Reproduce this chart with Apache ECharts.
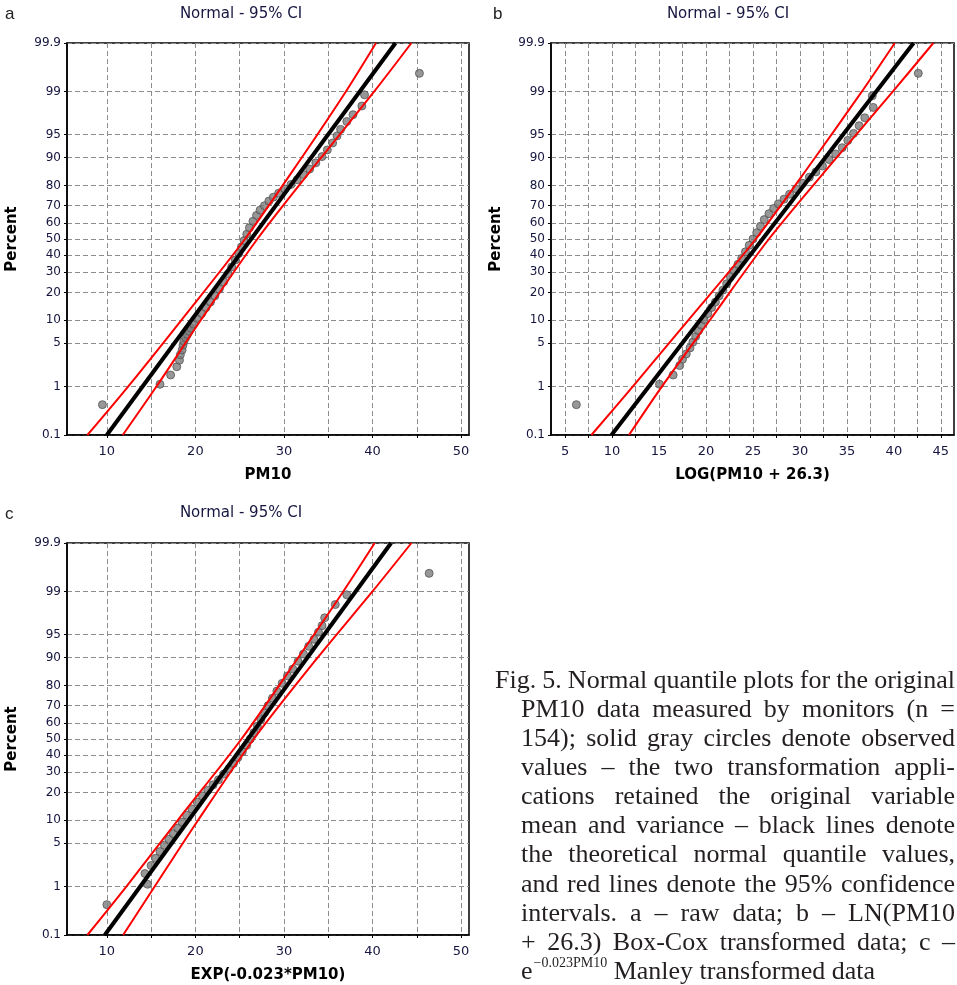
<!DOCTYPE html>
<html>
<head>
<meta charset="utf-8">
<title>Normal quantile plots - PM10</title>
<script src="https://cdn.jsdelivr.net/npm/echarts@6/dist/echarts.min.js"></script>
<style>
  html, body { margin: 0; padding: 0; background: #fff; }
  #chart { width: 957px; height: 985px; }
</style>
</head>
<body>
<div id="chart"></div>
<script>
// probability scale ticks (percent)
const percentTicks = [0.1, 1, 5, 10, 20, 30, 40, 50, 60, 70, 80, 90, 95, 99, 99.9];

// x ticks / labels
const xGridA = [10, 15, 20, 25, 30, 35, 40, 45, 50];
const xLabelsA = [10, 20, 30, 40, 50];
const xGridB = [5, 7.5, 10, 12.5, 15, 17.5, 20, 22.5, 25, 27.5, 30, 32.5, 35, 37.5, 40, 42.5, 45];
const xLabelsB = [5, 10, 15, 20, 25, 30, 35, 40, 45];

// a - raw data  [PM10, percent]
const rawPoints = [
  [9.5, 0.45], [16.0, 1.1], [17.2, 1.6], [17.9, 2.2], [18.2, 2.8], [18.3, 3.4], [18.5, 4.0], [18.6, 4.7],
  [18.7, 5.3], [18.9, 6.0], [19.1, 6.6], [19.3, 7.3], [19.5, 8.0], [19.8, 9.0], [20.2, 10.5], [20.7, 12],
  [21.2, 14], [21.7, 16], [22.2, 18.5], [22.7, 21.5], [23.2, 25], [23.7, 29], [24.1, 33], [24.5, 37],
  [24.9, 41], [25.2, 45], [25.5, 49], [25.8, 53], [26.1, 57], [26.5, 61], [26.9, 64.5], [27.3, 67.5],
  [27.8, 70], [28.3, 72.5], [28.8, 74.5], [29.4, 76.5], [30.1, 78.5], [30.8, 80.5], [31.5, 82.5], [32.2, 84.5],
  [32.9, 86.5], [33.6, 88.5], [34.3, 90.3], [34.9, 92], [35.5, 93.5], [36.0, 94.8], [36.4, 95.8], [37.1, 96.8],
  [37.8, 97.5], [38.8, 98.2], [39.1, 98.85], [45.3, 99.55]
];
const rawFit = [[10.0, 0.1], [42.6, 99.9]];
const rawLower = [[7.8, 0.1], [12.4, 1], [18.4, 10], [25.6, 50], [32.0, 90], [37.0, 99], [40.4, 99.9]];
const rawUpper = [[11.8, 0.1], [15.6, 1], [20.6, 10], [27.0, 50], [34.2, 90], [40.2, 99], [44.4, 99.9]];

// b - LOG(PM10 + 26.3)
const logPoints = [
  [6.2, 0.45], [15.05, 1.1], [16.5, 1.6], [17.2, 2.3], [17.5, 2.9], [17.9, 3.5], [18.3, 4.3], [18.6, 5.2],
  [18.9, 6.2], [19.2, 7.4], [19.5, 8.7], [19.8, 10.2], [20.2, 12], [20.6, 14], [21.0, 16], [21.4, 18.5],
  [21.8, 21], [22.2, 24], [22.6, 27.5], [23.0, 31], [23.4, 34.5], [23.8, 38], [24.2, 42], [24.6, 46],
  [25.0, 50], [25.4, 54], [25.8, 58], [26.2, 62], [26.7, 65.5], [27.2, 68.5], [27.7, 71], [28.3, 73.5],
  [28.9, 76], [29.6, 78.5], [30.3, 81], [31.0, 83.5], [31.7, 85.5], [32.4, 87.5], [33.1, 89.5], [33.8, 91],
  [34.5, 92.5], [35.1, 94], [35.7, 95.2], [36.3, 96.3], [36.9, 97.2], [37.8, 98.1], [37.7, 98.8], [42.6, 99.55]
];
const logFit = [[9.94, 0.1], [42.1, 99.9]];
const logLower = [[7.8, 0.1], [12.2, 1], [18.1, 10], [25.3, 50], [31.6, 90], [36.6, 99], [40.1, 99.9]];
const logUpper = [[11.8, 0.1], [15.3, 1], [20.4, 10], [26.7, 50], [33.9, 90], [39.9, 99], [44.2, 99.9]];

// c - EXP(-0.023*PM10)
const expPoints = [
  [10.0, 0.45], [14.6, 1.1], [14.3, 1.7], [15.0, 2.3], [15.5, 3], [16.0, 3.8], [16.5, 4.7], [17.0, 5.7],
  [17.5, 6.8], [18.0, 8], [18.5, 9.5], [19.0, 11.5], [19.6, 13.5], [20.2, 16], [20.8, 18.5], [21.4, 21],
  [22.0, 23.5], [22.6, 26], [23.2, 29], [23.8, 32], [24.3, 35], [24.8, 38.5], [25.3, 42], [25.8, 46],
  [26.2, 50], [26.6, 54], [27.0, 58], [27.4, 62], [27.8, 66], [28.2, 70], [28.7, 74], [29.2, 77.5],
  [29.8, 81], [30.4, 84], [31.0, 86.5], [31.6, 89], [32.2, 91], [32.8, 92.8], [33.4, 94.2], [33.9, 95.4],
  [34.3, 96.3], [34.6, 97.2], [35.8, 98.3], [37.1, 98.85], [46.4, 99.55]
];
const expFit = [[9.77, 0.1], [42.1, 99.9]];
const expLower = [[7.8, 0.1], [12.2, 1], [18.0, 10], [25.2, 50], [31.6, 90], [36.7, 99], [40.25, 99.9]];
const expUpper = [[11.84, 0.1], [15.4, 1], [20.3, 10], [26.6, 50], [33.8, 90], [40.0, 99], [44.4, 99.9]];

const captionLines = [
  'Fig. 5. Normal quantile plots for the original',
  'PM10 data measured by monitors (n =',
  '154); solid gray circles denote observed',
  'values \u2013 the two transformation appli-',
  'cations retained the original variable',
  'mean and variance \u2013 black lines denote',
  'the theoretical normal quantile values,',
  'and red lines denote the 95% confidence',
  'intervals. a \u2013 raw data; b \u2013 LN(PM10',
  '+ 26.3) Box-Cox transformed data; c \u2013'
];
const captionLast = ['e', '\u22120.023PM10', ' Manley transformed data'];

// inverse normal cdf (Acklam) - maps percent to the probit axis
function probit(p) {
  const a = [-3.969683028665376e+01, 2.209460984245205e+02, -2.759285104469687e+02, 1.383577518672690e+02, -3.066479806614716e+01, 2.506628277459239e+00];
  const b = [-5.447609879822406e+01, 1.615858368580409e+02, -1.556989798598866e+02, 6.680131188771972e+01, -1.328068155288572e+01];
  const c = [-7.784894002430293e-03, -3.223964580411365e-01, -2.400758277161838e+00, -2.549732539343734e+00, 4.374664141464968e+00, 2.938163982698783e+00];
  const d = [7.784695709041462e-03, 3.224671290700398e-01, 2.445134137142996e+00, 3.754408661907416e+00];
  const pl = 0.02425;
  let q, r;
  if (p < pl) {
    q = Math.sqrt(-2 * Math.log(p));
    return (((((c[0] * q + c[1]) * q + c[2]) * q + c[3]) * q + c[4]) * q + c[5]) / ((((d[0] * q + d[1]) * q + d[2]) * q + d[3]) * q + 1);
  }
  if (p > 1 - pl) {
    q = Math.sqrt(-2 * Math.log(1 - p));
    return -(((((c[0] * q + c[1]) * q + c[2]) * q + c[3]) * q + c[4]) * q + c[5]) / ((((d[0] * q + d[1]) * q + d[2]) * q + d[3]) * q + 1);
  }
  q = p - 0.5;
  r = q * q;
  return (((((a[0] * r + a[1]) * r + a[2]) * r + a[3]) * r + a[4]) * r + a[5]) * q / (((((b[0] * r + b[1]) * r + b[2]) * r + b[3]) * r + b[4]) * r + 1);
}

const zTicks = percentTicks.map(p => probit(p / 100));
const zMin = zTicks[0];
const zMax = zTicks[zTicks.length - 1];
const toZ = arr => arr.map(([x, p]) => [x, probit(p / 100)]);

const sansFont = 'DejaVu Sans';
const labelColor = '#15153f';
const gridLine = { type: [5, 3], color: '#8c8c8c', width: 1 };

const grids = [
  { left: 67, top: 43, width: 402, height: 392 },
  { left: 551, top: 43, width: 403, height: 392 },
  { left: 67, top: 543, width: 402, height: 392 }
].map(g => Object.assign({ show: true, borderColor: '#000', borderWidth: 1.5, backgroundColor: '#fff' }, g));

function xAxisFor(gridIndex, min, max, gridVals, labelVals, name) {
  return {
    type: 'value', gridIndex, min, max,
    name, nameLocation: 'middle', nameGap: 33,
    nameTextStyle: { fontFamily: sansFont, fontWeight: 'bold', fontSize: 15, color: '#000' },
    axisLine: { show: true, onZero: false, lineStyle: { color: '#000', width: 1.5 } },
    axisTick: { show: true, length: 3, customValues: gridVals, lineStyle: { color: '#000' } },
    axisLabel: { customValues: labelVals, margin: 10, fontFamily: sansFont, fontSize: 13, color: labelColor },
    splitLine: { show: true, lineStyle: gridLine }
  };
}

function yAxisFor(gridIndex) {
  return {
    type: 'value', gridIndex, min: zMin, max: zMax,
    name: 'Percent', nameLocation: 'middle', nameGap: 47,
    nameTextStyle: { fontFamily: sansFont, fontWeight: 'bold', fontSize: 15, color: '#000' },
    axisLine: { show: true, onZero: false, lineStyle: { color: '#000', width: 1.5 } },
    axisTick: { show: true, length: 3, customValues: zTicks, lineStyle: { color: '#000' } },
    axisLabel: {
      customValues: zTicks, margin: 6, fontFamily: sansFont, fontSize: 12, color: labelColor,
      formatter: v => {
        const i = zTicks.findIndex(z => Math.abs(z - v) < 1e-6);
        return i >= 0 ? String(percentTicks[i]) : '';
      }
    },
    splitLine: { show: true, lineStyle: gridLine }
  };
}

function panelSeries(idx, points, fit, lower, upper) {
  const ci = (data) => ({
    type: 'line', xAxisIndex: idx, yAxisIndex: idx, data: toZ(data),
    smooth: 0.3, showSymbol: false, silent: true, z: 4,
    lineStyle: { color: '#ff0000', width: 2 }
  });
  return [
    {
      type: 'scatter', xAxisIndex: idx, yAxisIndex: idx, data: toZ(points),
      symbol: 'circle', symbolSize: 8, z: 3,
      itemStyle: { color: '#7d7d7d', borderColor: '#555', borderWidth: 1 }
    },
    ci(lower),
    ci(upper),
    {
      type: 'line', xAxisIndex: idx, yAxisIndex: idx, data: toZ(fit),
      showSymbol: false, silent: true, z: 5,
      lineStyle: { color: '#000', width: 4 }
    }
  ];
}

function titleText(x, y, letter, lx, ly) {
  return [
    { type: 'text', x, y, style: { text: 'Normal - 95% CI', fontFamily: sansFont, fontSize: 15, fill: labelColor, align: 'center', verticalAlign: 'middle' } },
    { type: 'text', x: lx, y: ly, style: { text: letter, fontFamily: 'Liberation Sans', fontSize: 17, fill: '#222', align: 'left', verticalAlign: 'middle' } }
  ];
}

function captionGraphics() {
  const fontSize = 26;
  const family = 'Liberation Serif';
  const fill = '#231f20';
  const left = 495, indent = 521, right = 955, top = 681, leading = 29.1;
  const ctx = document.createElement('canvas').getContext('2d');
  const measure = (t, size) => { ctx.font = size + 'px "' + family + '"'; return ctx.measureText(t).width; };
  const els = [];
  captionLines.forEach((line, i) => {
    const y = top + i * leading;
    const x0 = i === 0 ? left : indent;
    const words = line.split(' ');
    const widths = words.map(w => measure(w, fontSize));
    const total = widths.reduce((s, w) => s + w, 0);
    const gap = (right - x0 - total) / (words.length - 1);
    let x = x0;
    words.forEach((w, k) => {
      els.push({ type: 'text', x, y, style: { text: w, fontFamily: family, fontSize, fill, verticalAlign: 'middle' } });
      x += widths[k] + gap;
    });
  });
  // last line with superscript
  const y = top + captionLines.length * leading;
  let x = indent;
  els.push({ type: 'text', x, y, style: { text: captionLast[0], fontFamily: family, fontSize, fill, verticalAlign: 'middle' } });
  x += measure(captionLast[0], fontSize) + 1;
  els.push({ type: 'text', x, y: y - 9, style: { text: captionLast[1], fontFamily: family, fontSize: 14, fill, verticalAlign: 'middle' } });
  x += measure(captionLast[1], 14);
  els.push({ type: 'text', x, y, style: { text: captionLast[2], fontFamily: family, fontSize, fill, verticalAlign: 'middle' } });
  return els;
}

const chart = echarts.init(document.getElementById('chart'), null, { renderer: 'canvas' });
chart.setOption({
  animation: false,
  backgroundColor: '#fff',
  grid: grids,
  xAxis: [
    xAxisFor(0, 5.5, 50.9, xGridA, xLabelsA, 'PM10'),
    xAxisFor(1, 3.5, 46.4, xGridB, xLabelsB, 'LOG(PM10 + 26.3)'),
    xAxisFor(2, 5.5, 50.9, xGridA, xLabelsA, 'EXP(-0.023*PM10)')
  ],
  yAxis: [yAxisFor(0), yAxisFor(1), yAxisFor(2)],
  series: [
    ...panelSeries(0, rawPoints, rawFit, rawLower, rawUpper),
    ...panelSeries(1, logPoints, logFit, logLower, logUpper),
    ...panelSeries(2, expPoints, expFit, expLower, expUpper)
  ],
  graphic: [
    ...titleText(241, 14, 'a', 5, 14),
    ...titleText(728, 14, 'b', 493, 14),
    ...titleText(241, 513, 'c', 5, 514),
    ...captionGraphics()
  ]
});
</script>
</body>
</html>
